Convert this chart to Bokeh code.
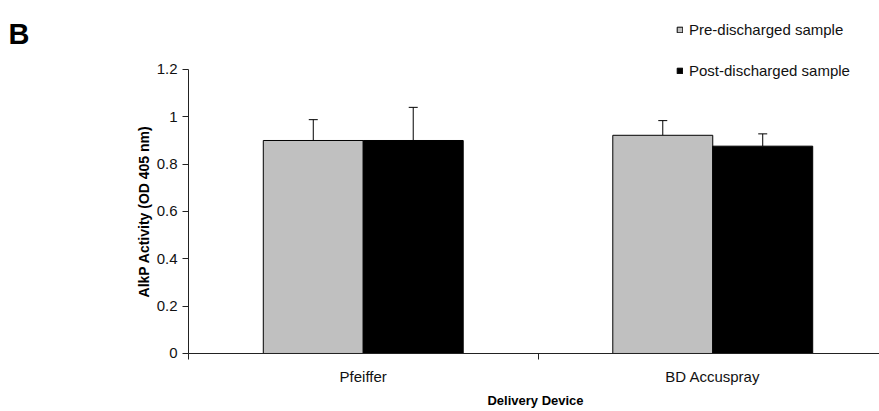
from bokeh.plotting import figure
from bokeh.models import (Range1d, FixedTicker, ColumnDataSource, Whisker, TeeHead,
                          Legend, LegendItem, Label)
from bokeh.embed import file_html
from bokeh.resources import INLINE

# ---- data ----
categories = ["Pfeiffer", "BD Accuspray"]
series_names = ["Pre-discharged sample", "Post-discharged sample"]
pre_values = [0.90, 0.922]
pre_errors = [0.088, 0.062]
post_values = [0.90, 0.876]
post_errors = [0.14, 0.052]
y_ticks = [0, 0.2, 0.4, 0.6, 0.8, 1.0, 1.2]
y_tick_labels = ["0", "0.2", "0.4", "0.6", "0.8", "1", "1.2"]
x_title = "Delivery Device"
y_title = "AlkP Activity (OD 405 nm)"
panel_letter = "B"

FONT = "Liberation Sans"

W, H = 879, 411
# whole canvas is the frame; axes are pinned at the data origin
p = figure(width=W, height=H, output_backend="svg", toolbar_location=None,
           x_range=Range1d(-0.5379, 1.9771), y_range=Range1d(-0.2451, 1.4915),
           min_border_left=0, min_border_right=0, min_border_top=0,
           min_border_bottom=0)
p.outline_line_color = None
p.grid.grid_line_color = None
p.background_fill_color = "white"
p.border_fill_color = "white"

centers = [i + 0.5 for i in range(len(categories))]
bw = 0.286
pre_x = [c - bw / 2 for c in centers]
post_x = [c + bw / 2 for c in centers]

src_pre = ColumnDataSource(dict(x=pre_x, top=pre_values,
                                upper=[v + e for v, e in zip(pre_values, pre_errors)],
                                lower=pre_values))
src_post = ColumnDataSource(dict(x=post_x, top=post_values,
                                 upper=[v + e for v, e in zip(post_values, post_errors)],
                                 lower=post_values))

r_pre = p.vbar(x="x", top="top", width=bw, bottom=0, source=src_pre,
               fill_color="#c0c0c0", line_color="#000000", line_width=1)
r_post = p.vbar(x="x", top="top", width=bw, bottom=0, source=src_post,
                fill_color="#000000", line_color="#000000", line_width=1)

for s in (src_pre, src_post):
    w = Whisker(base="x", upper="upper", lower="lower", source=s,
                dimension="height", line_color="#000000", line_width=1,
                upper_head=TeeHead(size=9, line_color="#000000", line_width=1),
                lower_head=None)
    p.add_layout(w)

# y axis
ya = p.yaxis[0]
ya.fixed_location = 0
ya.ticker = FixedTicker(ticks=y_ticks, minor_ticks=[])
ya.major_label_overrides = {t: l for t, l in zip(y_ticks, y_tick_labels)}
ya.bounds = (0, 1.2)
ya.major_tick_in = 0
ya.major_tick_out = 6
ya.minor_tick_line_color = None
ya.major_label_standoff = 5
ya.major_label_text_font = FONT
ya.major_label_text_font_size = "15px"
ya.major_label_text_color = "#111111"
ya.axis_line_color = "#222222"
ya.major_tick_line_color = "#222222"
ya.axis_label = y_title
ya.axis_label_text_font = FONT
ya.axis_label_text_font_style = "bold"
ya.axis_label_text_font_size = "14px"
ya.axis_label_text_color = "#000000"
ya.axis_label_standoff = 2

# x axis
xa = p.xaxis[0]
xa.fixed_location = 0
xa.bounds = (0, 1.9771)
xa.ticker = FixedTicker(ticks=centers, minor_ticks=[0, 1, 2])
xa.major_label_overrides = {c: n for c, n in zip(centers, categories)}
xa.major_tick_line_color = None
xa.major_tick_in = 0
xa.major_tick_out = 0
xa.minor_tick_in = 0
xa.minor_tick_out = 6
xa.minor_tick_line_color = "#222222"
xa.axis_line_color = "#222222"
xa.major_label_standoff = 9
xa.major_label_text_font = FONT
xa.major_label_text_font_size = "15px"
xa.major_label_text_color = "#111111"

p.add_layout(Label(x=535, y=11, x_units="screen", y_units="screen", text=x_title,
                   text_font=FONT, text_font_style="bold", text_font_size="13px",
                   text_color="#000000", text_align="center", text_baseline="middle"))

legend = Legend(items=[LegendItem(label=series_names[0], renderers=[r_pre]),
                       LegendItem(label=series_names[1], renderers=[r_post])],
                location=(676, 332), padding=0, margin=0, spacing=24,
                glyph_width=7, glyph_height=7, label_height=16,
                label_standoff=6, border_line_color=None,
                background_fill_alpha=0,
                label_text_font=FONT, label_text_font_size="15px",
                label_text_color="#111111")
p.add_layout(legend, "center")

p.add_layout(Label(x=8, y=378, x_units="screen", y_units="screen", text=panel_letter,
                   text_font=FONT, text_font_style="bold", text_font_size="29px",
                   text_color="#000000", text_baseline="alphabetic"))

open("out.html", "w").write(file_html(p, INLINE))
